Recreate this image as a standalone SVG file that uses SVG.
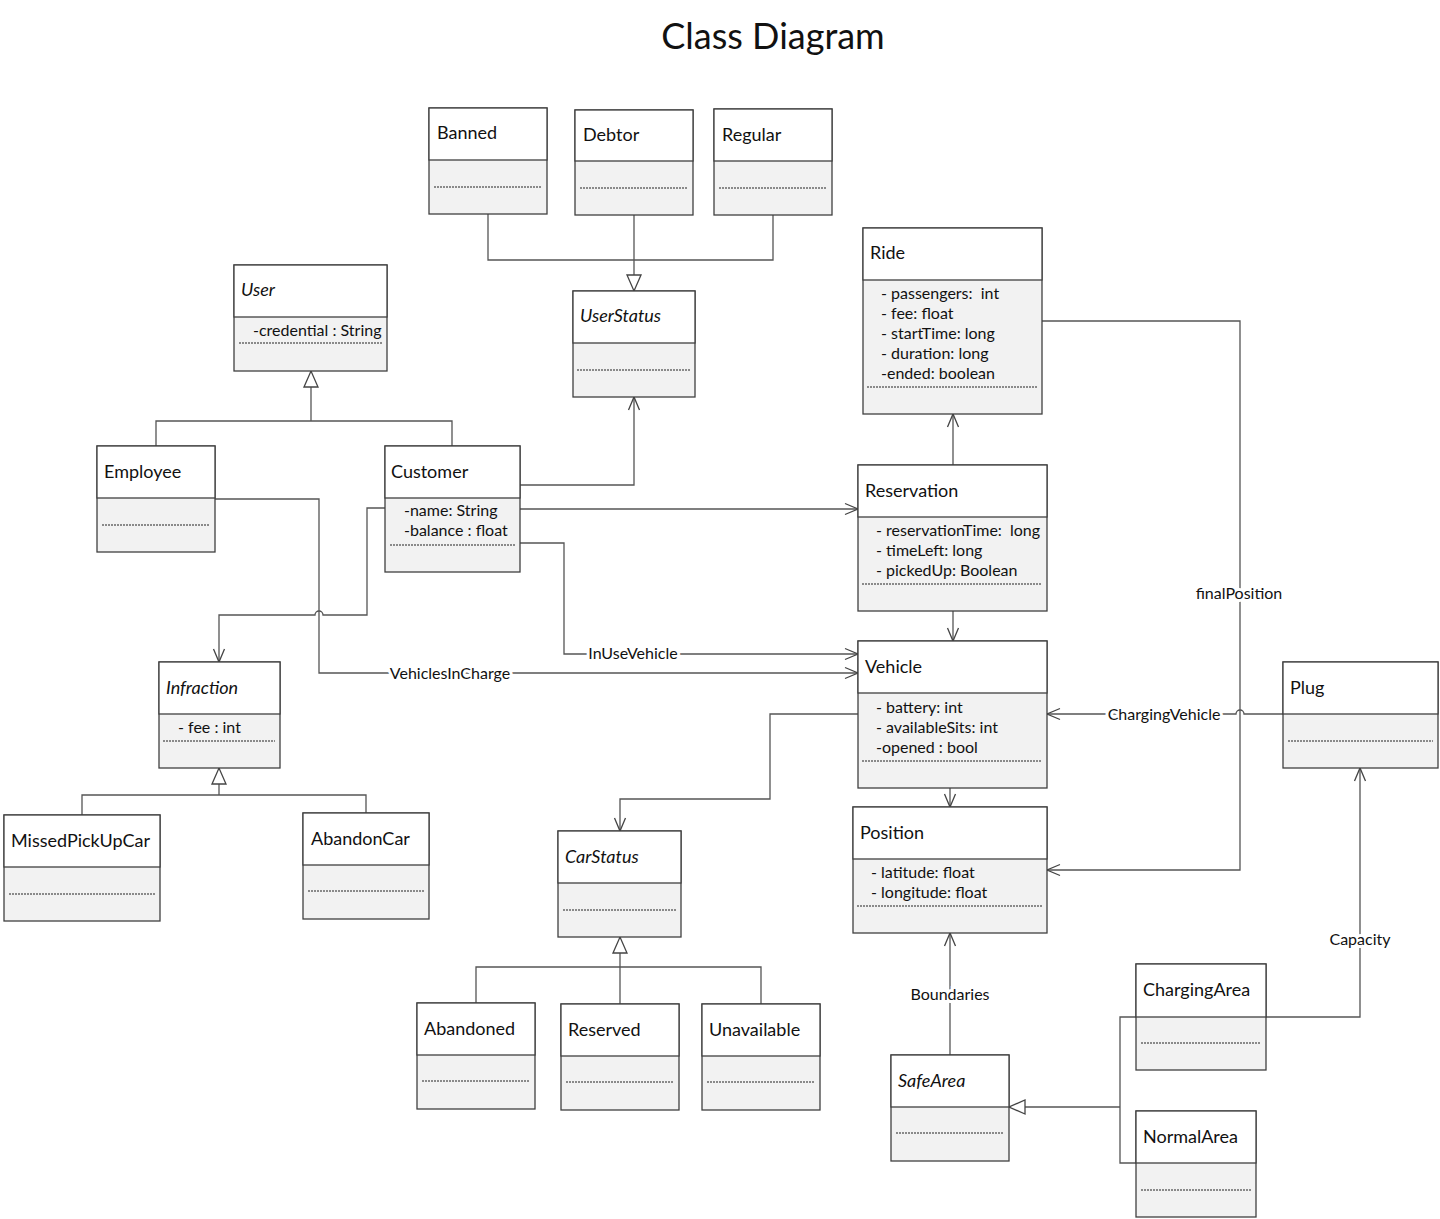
<svg xmlns="http://www.w3.org/2000/svg" width="1440" height="1219" viewBox="0 0 1440 1219">
<style>
text{font-family:Lato,"Liberation Sans",sans-serif;fill:#111;white-space:pre}
.title{font-size:36px}
.hd{font-size:18px}
.it{font-style:italic}
.at{font-size:16px}
.lbl{font-size:16px;text-anchor:middle;paint-order:stroke;stroke:#fff;stroke-width:6px}
.box{fill:#f2f2f2;stroke:#404040;stroke-width:1.3}
.hdr{fill:#fff;stroke:#404040;stroke-width:1.3}
.dot{stroke:#222;stroke-width:1;stroke-dasharray:2,1}
.c{fill:none;stroke:#555;stroke-width:1.3}
.a{marker-end:url(#arr)}
.g{marker-end:url(#tri)}
</style>
<defs>
<marker id="arr" markerUnits="userSpaceOnUse" markerWidth="14" markerHeight="12" refX="13" refY="6" orient="auto" overflow="visible">
<path d="M0,0.5 L13,6 L0,11.5" fill="none" stroke="#444" stroke-width="1.3"/>
</marker>
<marker id="tri" markerUnits="userSpaceOnUse" markerWidth="18" markerHeight="16" refX="16" refY="7" orient="auto" overflow="visible">
<path d="M0,0 L16,7 L0,14 Z" fill="#fff" stroke="#444" stroke-width="1.3"/>
</marker>
</defs>
<rect width="1440" height="1219" fill="#fff"/>
<text class="title" x="773" y="49" text-anchor="middle">Class Diagram</text>

<g id="connectors">
<path class="c" d="M488,214 V260 H773 V215"/>
<path class="c g" d="M634,215 V291"/>
<path class="c" d="M156,446 V421 H452 V446"/>
<path class="c g" d="M311,421 V371"/>
<path class="c" d="M82,815 V795 H366 V813"/>
<path class="c g" d="M219,795 V768"/>
<path class="c" d="M476,1003 V967 H761 V1004"/>
<path class="c g" d="M620,1004 V937"/>
<path class="c" d="M1136,1163 H1120 V1017 H1136"/>
<path class="c g" d="M1120,1107 H1009"/>
<path class="c a" d="M520,485 H634 V397"/>
<path class="c a" d="M520,509 H858"/>
<path class="c a" d="M520,543 H564 V654 H858"/>
<path class="c a" d="M215,499 H319 V673 H858"/>
<path class="c a" d="M385,508 H367 V615 H323 A4,4 0 0 0 315,615 H219 V662"/>
<path class="c a" d="M1042,321 H1240 V870 H1047"/>
<path class="c a" d="M1283,714 H1244 A4,4 0 0 0 1236,714 H1047"/>
<path class="c a" d="M1266,1017 H1360 V768"/>
<path class="c a" d="M950,1055 V933"/>
<path class="c a" d="M953,465 V414"/>
<path class="c a" d="M953,611 V641"/>
<path class="c a" d="M950,768 V807"/>
<path class="c a" d="M858,714 H770 V799 H620 V831"/>
<text class="lbl" x="633" y="659">InUseVehicle</text>
<text class="lbl" x="450" y="679">VehiclesInCharge</text>
<text class="lbl" x="1239" y="599">finalPosition</text>
<text class="lbl" x="1164" y="720">ChargingVehicle</text>
<text class="lbl" x="1360" y="945">Capacity</text>
<text class="lbl" x="950" y="1000">Boundaries</text>
</g>

<g id="Banned"><rect class="box" x="429" y="108" width="118" height="106"/><rect class="hdr" x="429" y="108" width="118" height="52"/><line class="dot" x1="434" y1="187" x2="542" y2="187"/><text class="hd" x="437" y="139">Banned</text></g>
<g id="Debtor"><rect class="box" x="575" y="110" width="118" height="105"/><rect class="hdr" x="575" y="110" width="118" height="51"/><line class="dot" x1="580" y1="188" x2="688" y2="188"/><text class="hd" x="583" y="141">Debtor</text></g>
<g id="Regular"><rect class="box" x="714" y="109" width="118" height="106"/><rect class="hdr" x="714" y="109" width="118" height="52"/><line class="dot" x1="719" y1="188" x2="827" y2="188"/><text class="hd" x="722" y="141">Regular</text></g>
<g id="UserStatus"><rect class="box" x="573" y="291" width="122" height="106"/><rect class="hdr" x="573" y="291" width="122" height="52"/><line class="dot" x1="577" y1="370" x2="690" y2="370"/><text class="hd it" x="580" y="322">UserStatus</text></g>
<g id="User"><rect class="box" x="234" y="265" width="153" height="106"/><rect class="hdr" x="234" y="265" width="153" height="52"/><line class="dot" x1="239" y1="343" x2="383" y2="343"/><text class="hd it" x="241" y="296">User</text><text class="at" x="253" y="336">-credential : String</text></g>
<g id="Employee"><rect class="box" x="97" y="446" width="118" height="106"/><rect class="hdr" x="97" y="446" width="118" height="52"/><line class="dot" x1="102" y1="525" x2="210" y2="525"/><text class="hd" x="104" y="478">Employee</text></g>
<g id="Customer"><rect class="box" x="385" y="446" width="135" height="126"/><rect class="hdr" x="385" y="446" width="135" height="52"/><line class="dot" x1="390" y1="545" x2="515" y2="545"/><text class="hd" x="391" y="478">Customer</text><text class="at" x="404" y="516">-name: String</text><text class="at" x="404" y="536">-balance : float</text></g>
<g id="Ride"><rect class="box" x="863" y="228" width="179" height="186"/><rect class="hdr" x="863" y="228" width="179" height="52"/><line class="dot" x1="867" y1="387" x2="1037" y2="387"/><text class="hd" x="870" y="259">Ride</text><text class="at" x="881" y="299">- passengers:  int</text><text class="at" x="881" y="319">- fee: float</text><text class="at" x="881" y="339">- startTime: long</text><text class="at" x="881" y="359">- duration: long</text><text class="at" x="881" y="379">-ended: boolean</text></g>
<g id="Reservation"><rect class="box" x="858" y="465" width="189" height="146"/><rect class="hdr" x="858" y="465" width="189" height="52"/><line class="dot" x1="862" y1="584" x2="1042" y2="584"/><text class="hd" x="865" y="497">Reservation</text><text class="at" x="876" y="536">- reservationTime:  long</text><text class="at" x="876" y="556">- timeLeft: long</text><text class="at" x="876" y="576">- pickedUp: Boolean</text></g>
<g id="Vehicle"><rect class="box" x="858" y="641" width="189" height="147"/><rect class="hdr" x="858" y="641" width="189" height="52"/><line class="dot" x1="862" y1="761" x2="1042" y2="761"/><text class="hd" x="865" y="673">Vehicle</text><text class="at" x="876" y="713">- battery: int</text><text class="at" x="876" y="733">- availableSits: int</text><text class="at" x="876" y="753">-opened : bool</text></g>
<g id="Position"><rect class="box" x="853" y="807" width="194" height="126"/><rect class="hdr" x="853" y="807" width="194" height="52"/><line class="dot" x1="857" y1="906" x2="1042" y2="906"/><text class="hd" x="860" y="839">Position</text><text class="at" x="871" y="878">- latitude: float</text><text class="at" x="871" y="898">- longitude: float</text></g>
<g id="Plug"><rect class="box" x="1283" y="662" width="155" height="106"/><rect class="hdr" x="1283" y="662" width="155" height="52"/><line class="dot" x1="1288" y1="741" x2="1433" y2="741"/><text class="hd" x="1290" y="694">Plug</text></g>
<g id="Infraction"><rect class="box" x="159" y="662" width="121" height="106"/><rect class="hdr" x="159" y="662" width="121" height="52"/><line class="dot" x1="163" y1="741" x2="275" y2="741"/><text class="hd it" x="166" y="694">Infraction</text><text class="at" x="178" y="733">- fee : int</text></g>
<g id="MissedPickUpCar"><rect class="box" x="4" y="815" width="156" height="106"/><rect class="hdr" x="4" y="815" width="156" height="52"/><line class="dot" x1="9" y1="894" x2="155" y2="894"/><text class="hd" x="11" y="847">MissedPickUpCar</text></g>
<g id="AbandonCar"><rect class="box" x="303" y="813" width="126" height="106"/><rect class="hdr" x="303" y="813" width="126" height="52"/><line class="dot" x1="308" y1="891" x2="424" y2="891"/><text class="hd" x="311" y="845">AbandonCar</text></g>
<g id="CarStatus"><rect class="box" x="558" y="831" width="123" height="106"/><rect class="hdr" x="558" y="831" width="123" height="52"/><line class="dot" x1="563" y1="910" x2="676" y2="910"/><text class="hd it" x="565" y="863">CarStatus</text></g>
<g id="Abandoned"><rect class="box" x="417" y="1003" width="118" height="106"/><rect class="hdr" x="417" y="1003" width="118" height="52"/><line class="dot" x1="422" y1="1081" x2="530" y2="1081"/><text class="hd" x="424" y="1035">Abandoned</text></g>
<g id="Reserved"><rect class="box" x="561" y="1004" width="118" height="106"/><rect class="hdr" x="561" y="1004" width="118" height="52"/><line class="dot" x1="566" y1="1082" x2="674" y2="1082"/><text class="hd" x="568" y="1036">Reserved</text></g>
<g id="Unavailable"><rect class="box" x="702" y="1004" width="118" height="106"/><rect class="hdr" x="702" y="1004" width="118" height="52"/><line class="dot" x1="707" y1="1082" x2="815" y2="1082"/><text class="hd" x="709" y="1036">Unavailable</text></g>
<g id="SafeArea"><rect class="box" x="891" y="1055" width="118" height="106"/><rect class="hdr" x="891" y="1055" width="118" height="52"/><line class="dot" x1="896" y1="1133" x2="1004" y2="1133"/><text class="hd it" x="898" y="1087">SafeArea</text></g>
<g id="ChargingArea"><rect class="box" x="1136" y="964" width="130" height="106"/><rect class="hdr" x="1136" y="964" width="130" height="53"/><line class="dot" x1="1141" y1="1043" x2="1261" y2="1043"/><text class="hd" x="1143" y="996">ChargingArea</text></g>
<g id="NormalArea"><rect class="box" x="1136" y="1111" width="120" height="106"/><rect class="hdr" x="1136" y="1111" width="120" height="52"/><line class="dot" x1="1141" y1="1190" x2="1251" y2="1190"/><text class="hd" x="1143" y="1143">NormalArea</text></g>
</svg>
